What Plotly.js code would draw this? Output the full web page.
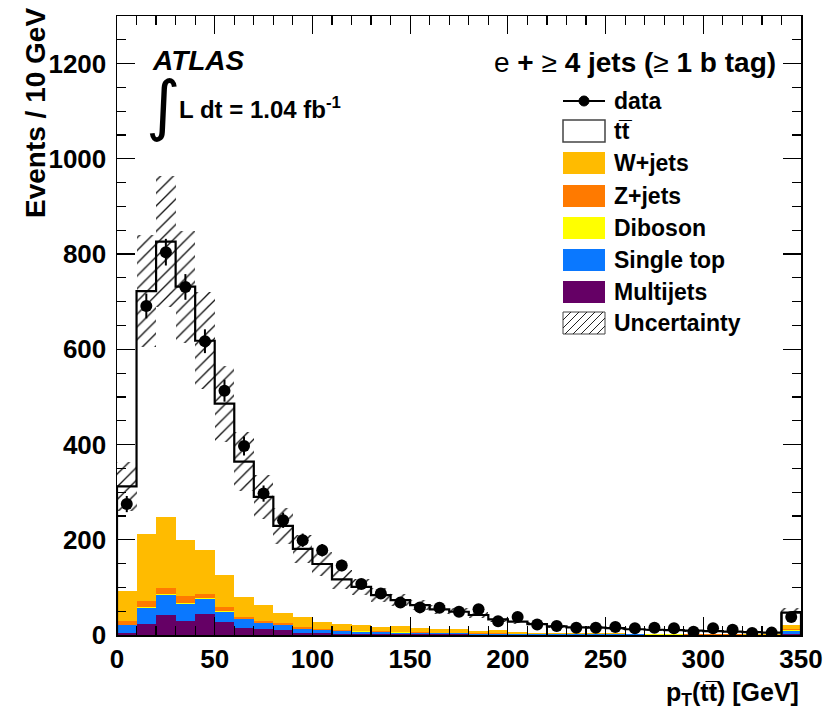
<!DOCTYPE html>
<html><head><meta charset="utf-8">
<script src="https://cdn.plot.ly/plotly-3.0.1.min.js"></script>
<style>body{margin:0;background:#fff}#c{width:829px;height:717px}</style>
</head><body><div id="c"></div>
<script>
// bin centres (GeV), last bin includes overflow
const binCenters = [5,15,25,35,45,55,65,75,85,95,105,115,125,135,145,155,165,175,185,195,205,215,225,235,245,255,265,275,285,295,305,315,325,335,345];
const binWidth = 10;
// data
const dataVals = [275,691,804,731,617,513,397,297,241,199,178,146,107,87,68,58,57,49,54,29,38,22,19,15,15,17,14,15,14,7,14,11,4,5,38];
const dataErr  = [17,26,28,27,25,23,20,17,16,14,13,12,10,9,8,8,8,7,7,5,6,5,4,4,4,4,4,4,4,3,4,3,2,2,6];
// MC components (stacked bottom -> top)
const multijets = [5,24,42,30,44,28,14,12,10,5,4,3,3,2,2,2,1.5,1.5,1,1,1,1,0.8,0.8,0.6,0.6,0.5,0.5,0.5,0.4,0.4,0.4,0.3,0.3,3];
const singleTop = [16,33,42,36,31,21,19,12.5,11,7,6,5,4,3.5,3,2.5,2,2,1.5,1.5,1.2,1,1,0.8,0.8,0.7,0.6,0.5,0.5,0.5,0.4,0.4,0.3,0.3,6];
const diboson   = [1,2,2,2,2,1.5,1,1,1,0.8,0.6,0.5,0.5,0.4,0.4,0.3,0.3,0.3,0.2,0.2,0.2,0.2,0.2,0.2,0.1,0.1,0.1,0.1,0.1,0.1,0.1,0.1,0.1,0.1,0.5];
const zJets     = [7,13,13,13.5,9,8.5,3,3.5,2.5,4,2,2,1.5,1.5,1.2,1,1,1,0.8,0.8,0.6,0.6,0.5,0.5,0.5,0.4,0.4,0.4,0.3,0.3,0.3,0.3,0.2,0.2,3];
const wJets     = [64,140,149,117,92,68,43,34,22.5,20,15.5,12.5,12,9.5,13,9,7,7,4.5,6.5,3,2.2,1.5,1.7,2,2,1.5,1.5,1.2,1.2,0.8,0.8,1.1,0.6,8.5];
const ttbar     = [219,510,578,533,440,359,284,227,182,144,121,94,80,67,53.5,48,42,37,34,23,22,18,14,12,11.5,10.5,9,8,7.5,6.5,6,5,4,3.5,26];
const uncert    = [52,118,137,118,102,80,62,47,38,30,25,20,17,14,12,10,9,8,7,6,5,4,4,3,3,3,3,2,2,2,2,2,2,2,10];

const colors = {multijets:'#650065', singleTop:'#0a78ff', diboson:'#ffff00', zJets:'#ff7a00', wJets:'#ffbb00'};

// cumulative stacks
const stackOrder = [['multijets',multijets],['singleTop',singleTop],['diboson',diboson],['zJets',zJets],['wJets',wJets]];
const cum = [];
let run = binCenters.map(()=>0);
stackOrder.forEach(([n,a])=>{ run = run.map((v,i)=>v+a[i]); cum.push([n, run.slice()]); });
const total = run.map((v,i)=>v+ttbar[i]);

const traces = [];
for (let k = cum.length-1; k>=0; k--) {
  const [n, vals] = cum[k];
  traces.push({type:'bar', x:binCenters, y:vals, width:binWidth, marker:{color:colors[n], line:{width:0}}, hoverinfo:'skip', showlegend:false});
}
// uncertainty band (hatched)
traces.push({type:'bar', x:binCenters, y:uncert.map(u=>2*u), base:total.map((t,i)=>t-uncert[i]), width:binWidth,
  marker:{color:'rgba(0,0,0,0)', line:{width:0}, pattern:{shape:'/', fgcolor:'#111', bgcolor:'rgba(0,0,0,0)', size:9, solidity:0.15}},
  hoverinfo:'skip', showlegend:false});
// ttbar total step outline
const sx=[0], sy=[0];
binCenters.forEach((c,i)=>{ sx.push(c-binWidth/2); sy.push(total[i]); });
sx.push(binCenters[binCenters.length-1]+binWidth/2); sy.push(total[total.length-1]);
sx.push(binCenters[binCenters.length-1]+binWidth/2); sy.push(0);
traces.push({type:'scatter', mode:'lines', x:sx, y:sy, line:{color:'#000', width:2.2, shape:'hv'}, hoverinfo:'skip', showlegend:false});
traces.push({type:'scatter', mode:'lines', x:[binCenters[34]-5,binCenters[34]-5], y:[0,total[34]], line:{color:'#000', width:2}, hoverinfo:'skip', showlegend:false});
// data
traces.push({type:'scatter', mode:'markers', x:binCenters, y:dataVals,
  error_y:{type:'data', array:dataErr, color:'#000', thickness:2, width:0},
  marker:{color:'#000', size:12, symbol:'circle'}, hoverinfo:'skip', showlegend:false});

const L=117, R=801, T=16, B=635;
const px = x => (x-L)/(R-L);
const py = y => (B-y)/(B-T);

const FONT = 'Liberation Sans, Arial, Helvetica, sans-serif';
const shapes = [];
const annotations = [];

const legend = [
  ['data','data',101],
  ['tt','tt\u0305',131],
  ['w','W+jets',163],
  ['z','Z+jets',196],
  ['d','Diboson',228],
  ['s','Single top',260],
  ['m','Multijets',292],
  ['u','Uncertainty',323]
];
const sx0=563, sx1=605, sh=22;
const swatchColor = {w:colors.wJets, z:colors.zJets, d:colors.diboson, s:colors.singleTop, m:colors.multijets};
legend.forEach(([k,label,yc])=>{
  annotations.push({xref:'paper', yref:'paper', x:px(612), y:py(yc), xanchor:'left', yanchor:'middle', showarrow:false,
    text:'<b>'+label+'</b>', font:{family:FONT, size:23, color:'#000'}});
  if (k==='data') {
    shapes.push({type:'line', xref:'paper', yref:'paper', x0:px(sx0), x1:px(sx1), y0:py(yc), y1:py(yc), line:{color:'#000', width:2}});
    shapes.push({type:'circle', xref:'paper', yref:'paper', x0:px(579), x1:px(589), y0:py(yc-5), y1:py(yc+5), fillcolor:'#000', line:{color:'#000', width:1}});
  } else if (k==='tt') {
    shapes.push({type:'rect', xref:'paper', yref:'paper', x0:px(sx0), x1:px(sx1), y0:py(yc-sh/2), y1:py(yc+sh/2), fillcolor:'#fff', line:{color:'#444', width:1.5}});
  } else if (k==='u') {
    shapes.push({type:'rect', xref:'paper', yref:'paper', x0:px(sx0), x1:px(sx1), y0:py(yc-sh/2), y1:py(yc+sh/2), fillcolor:'#fff', line:{color:'#444', width:1}});
    for (let d=-14; d<42; d+=8) {
      let xa=sx0+d, ya=yc+sh/2, xb=sx0+d+sh, yb=yc-sh/2;
      if (xa<sx0){ ya -= (sx0-xa); xa=sx0; }
      if (xb>sx1){ yb += (xb-sx1); xb=sx1; }
      if (xb<=xa) continue;
      shapes.push({type:'line', xref:'paper', yref:'paper', x0:px(xa), x1:px(xb), y0:py(ya), y1:py(yb), line:{color:'#222', width:1}});
    }
  } else {
    shapes.push({type:'rect', xref:'paper', yref:'paper', x0:px(sx0), x1:px(sx1), y0:py(yc-sh/2), y1:py(yc+sh/2), fillcolor:swatchColor[k], line:{width:0}});
  }
});

annotations.push({xref:'paper', yref:'paper', x:px(778), y:py(62), xanchor:'right', yanchor:'middle', showarrow:false,
  text:'e <b>+</b> \u2265 <b>4 jets (</b>\u2265<b> 1 b tag)</b>', font:{family:FONT, size:28, color:'#000'}});
annotations.push({xref:'paper', yref:'paper', x:px(150), y:py(61), xanchor:'left', yanchor:'middle', showarrow:false,
  text:'<b><i>ATLAS</i></b>', font:{family:FONT, size:28, color:'#000'}});
annotations.push({xref:'paper', yref:'paper', x:px(144), y:py(106), xanchor:'left', yanchor:'middle', showarrow:false,
  text:'\u222B', font:{family:'DejaVu Sans, sans-serif', size:66, color:'#000'}});
annotations.push({xref:'paper', yref:'paper', x:px(177), y:py(108), xanchor:'left', yanchor:'middle', showarrow:false,
  text:'<b>L dt = 1.04 fb<sup>-1</sup></b>', font:{family:FONT, size:24, color:'#000'}});
annotations.push({xref:'paper', yref:'paper', x:px(801), y:py(694), xanchor:'right', yanchor:'middle', showarrow:false,
  text:'<b>p<sub>T</sub>(tt\u0305) [GeV]</b>', font:{family:FONT, size:25, color:'#000'}});
annotations.push({xref:'paper', yref:'paper', x:px(35), y:py(6), xanchor:'center', yanchor:'top', showarrow:false, textangle:-90,
  text:'<b>Events / 10 GeV</b>', font:{family:FONT, size:28, color:'#000'}});

const layout = {
  width:829, height:717,
  margin:{l:L, r:829-R, t:T, b:717-B, pad:0},
  paper_bgcolor:'#fff', plot_bgcolor:'#fff',
  barmode:'overlay', bargap:0,
  showlegend:false,
  xaxis:{range:[0,350], showgrid:false, zeroline:false, showline:true, linecolor:'#000', linewidth:1.5, mirror:'allticks',
    ticks:'inside', ticklen:18, tickwidth:1.2, tickcolor:'#000', dtick:50, tick0:0,
    minor:{ticks:'inside', ticklen:9, tickwidth:1.2, tickcolor:'#000', dtick:10, showgrid:false},
    tickfont:{family:FONT, size:26, color:'#000', weight:'bold'}, ticklabelstandoff:0},
  yaxis:{range:[0,1300], showgrid:false, zeroline:false, showline:true, linecolor:'#000', linewidth:1.5, mirror:'allticks',
    ticks:'inside', ticklen:18, tickwidth:1.2, tickcolor:'#000', dtick:200, tick0:0,
    minor:{ticks:'inside', ticklen:9, tickwidth:1.2, tickcolor:'#000', dtick:50, showgrid:false},
    tickfont:{family:FONT, size:26, color:'#000', weight:'bold'}, ticklabelstandoff:4},
  shapes:shapes, annotations:annotations
};
Plotly.newPlot('c', traces, layout, {staticPlot:true, displayModeBar:false});
</script></body></html>
